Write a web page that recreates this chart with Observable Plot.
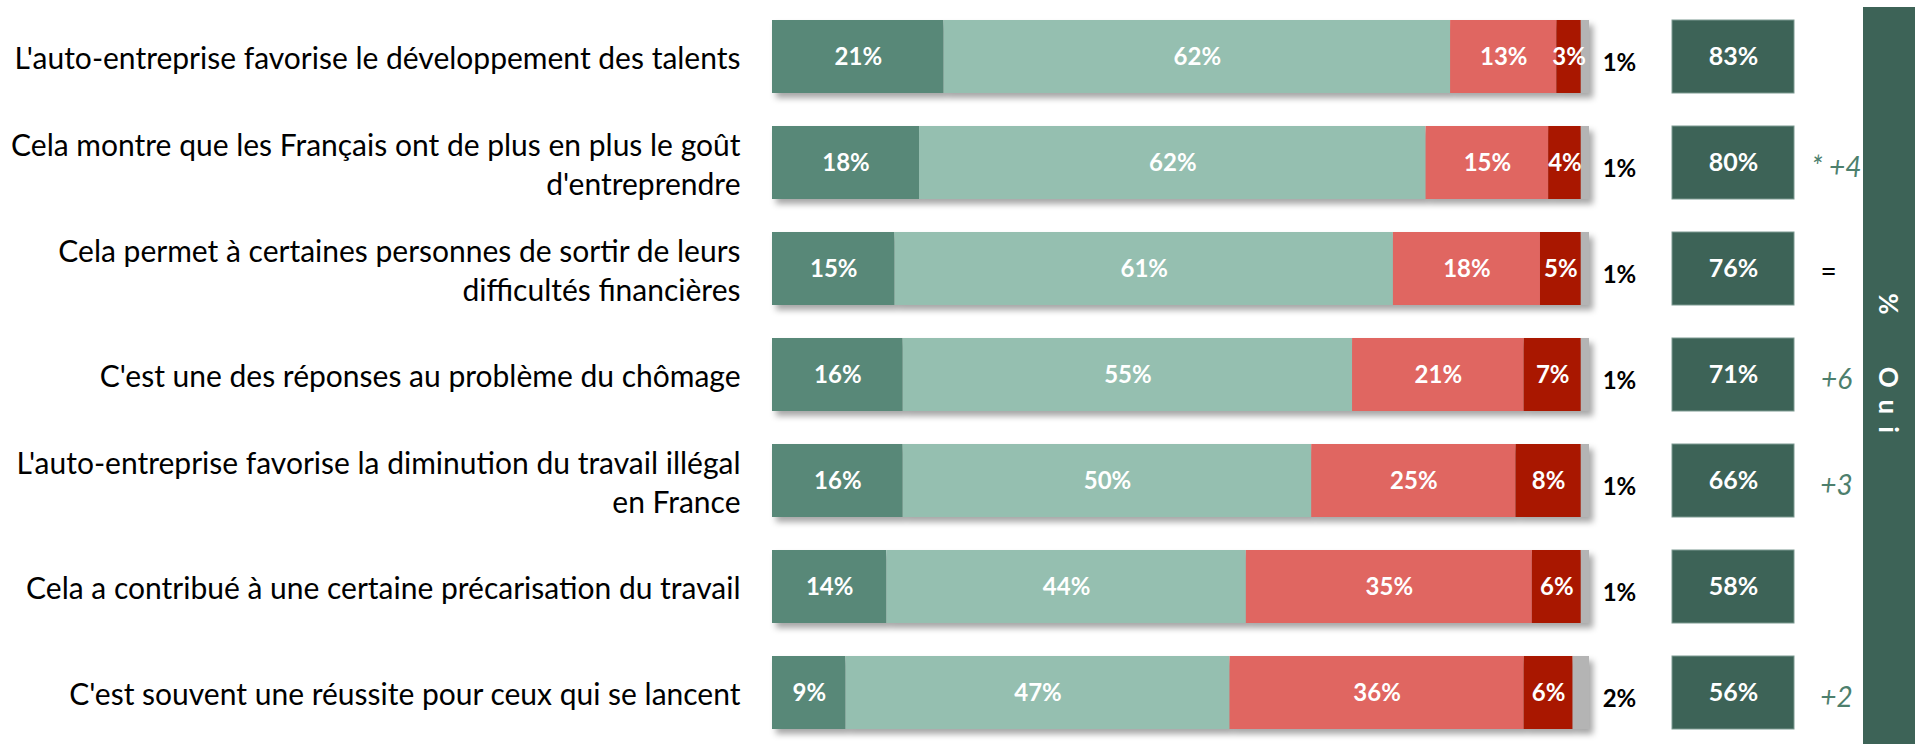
<!DOCTYPE html>
<html>
<head>
<meta charset="utf-8">
<script src="https://cdn.jsdelivr.net/npm/d3@7"></script>
<script src="https://cdn.jsdelivr.net/npm/@observablehq/plot@0.6"></script>
<style>
  body { margin: 0; background: #fff; }
  #chart { position: relative; width: 1915px; height: 744px; overflow: hidden; font-family: Lato, "Open Sans", sans-serif; }
  .part { position: absolute; top: 0; }
  #band { position: absolute; left: 1863px; top: 7px; width: 52px; height: 737px; background: #3d6357; }
  #band span { position: absolute; left: 50%; top: 362px; transform: translate(-50%, -50%);
    writing-mode: vertical-rl; color: #fff; font-family: Lato, sans-serif; font-weight: bold; font-size: 26px;
    letter-spacing: 12px; word-spacing: 22px; white-space: nowrap; }
</style>
</head>
<body>
<div id="chart">
  <div id="main" class="part" style="left:0"></div>
  <div id="right" class="part" style="left:1650px"></div>
  <div id="band"><span id="bandText"></span></div>
</div>
<script>
// ---- data ----
const labels = [
  "L'auto-entreprise favorise le développement des talents",
  "Cela montre que les Français ont de plus en plus le goût\nd'entreprendre",
  "Cela permet à certaines personnes de sortir de leurs\ndifficultés financières",
  "C'est une des réponses au problème du chômage",
  "L'auto-entreprise favorise la diminution du travail illégal\nen France",
  "Cela a contribué à une certaine précarisation du travail",
  "C'est souvent une réussite pour ceux qui se lancent"
];
const categories = ["Oui, tout à fait", "Oui, plutôt", "Non, plutôt pas", "Non, pas du tout", "Ne se prononce pas"];
const toutAFait = [21, 18, 15, 16, 16, 14, 9];
const plutot    = [62, 62, 61, 55, 50, 44, 47];
const plutotPas = [13, 15, 18, 21, 25, 35, 36];
const pasDuTout = [3, 4, 5, 7, 8, 6, 6];
const nsp       = [1, 1, 1, 1, 1, 1, 2];
const totalOui  = [83, 80, 76, 71, 66, 58, 56];
const evolution = ["", "* +4", "=", "+6", "+3", "", "+2"];
const bandTitle = "% Oui";
const colors = ["#588878", "#95bfb0", "#e06661", "#a91700", "#b4b4b4"];

// ---- build tables ----
const series = [toutAFait, plutot, plutotPas, pasDuTout, nsp];
const rows = [];
labels.forEach((label, i) => {
  series.forEach((s, j) => rows.push({label, cat: categories[j], value: s[i]}));
});
const nspRows = labels.map((label, i) => ({label, value: nsp[i]}));
const ouiRows = labels.map((label, i) => ({label, oui: totalOui[i], evo: evolution[i]}));

const yScale = {domain: labels, paddingInner: 0.315, paddingOuter: 0.128};

const main = Plot.plot({
  width: 1650, height: 744,
  marginLeft: 772, marginRight: 61, marginTop: 4, marginBottom: 0,
  style: {fontFamily: "Lato, 'Open Sans', sans-serif", color: "#000", background: "transparent"},
  x: {domain: [0, 100], axis: null},
  y: {...yScale, axis: null},
  color: {domain: categories, range: colors},
  marks: [
    Plot.barX(rows, Plot.stackX({x: "value", y: "label", fill: "cat"})),
    Plot.text(rows, Plot.stackX({
      x: "value", y: "label", z: "cat",
      filter: d => d.cat !== categories[4],
      text: d => d.value + "%",
      fill: "white", fontWeight: "bold", fontSize: 24
    })),
    Plot.text(nspRows, {x: 100, y: "label", text: d => d.value + "%", dx: 30, dy: 6,
      fill: "black", fontWeight: "bold", fontSize: 24}),
    Plot.axisY({tickSize: 0, tickPadding: 32, fontSize: 30, lineHeight: 1.3, label: null})
  ]
});
const barG = main.querySelector('g[aria-label="bar"]');
if (barG) barG.style.filter = "drop-shadow(4px 5px 3px rgba(0,0,0,0.35))";
document.getElementById("main").appendChild(main);

const right = Plot.plot({
  width: 213, height: 744,
  marginLeft: 22, marginRight: 69, marginTop: 4, marginBottom: 0,
  style: {fontFamily: "Lato, 'Open Sans', sans-serif", background: "transparent"},
  x: {type: "band", domain: ["Oui"], padding: 0, axis: null},
  y: {...yScale, axis: null},
  marks: [
    Plot.cell(ouiRows, {x: () => "Oui", y: "label", fill: "#3d6357", stroke: "#7d9a91", strokeWidth: 1}),
    Plot.text(ouiRows, {x: () => "Oui", y: "label", text: d => d.oui + "%",
      fill: "white", fontWeight: "bold", fontSize: 25}),
    Plot.text(ouiRows.filter(d => d.evo && d.evo !== "="), {x: () => "Oui", y: "label", text: "evo",
      dx: 103, dy: 5, fill: "#4d7f6d", fontStyle: "italic", fontSize: 28}),
    Plot.text(ouiRows.filter(d => d.evo === "="), {x: () => "Oui", y: "label", text: "evo",
      dx: 95, dy: 3, fill: "black", fontSize: 28})
  ]
});
document.getElementById("right").appendChild(right);
document.getElementById("bandText").textContent = bandTitle;
</script>
</body>
</html>
